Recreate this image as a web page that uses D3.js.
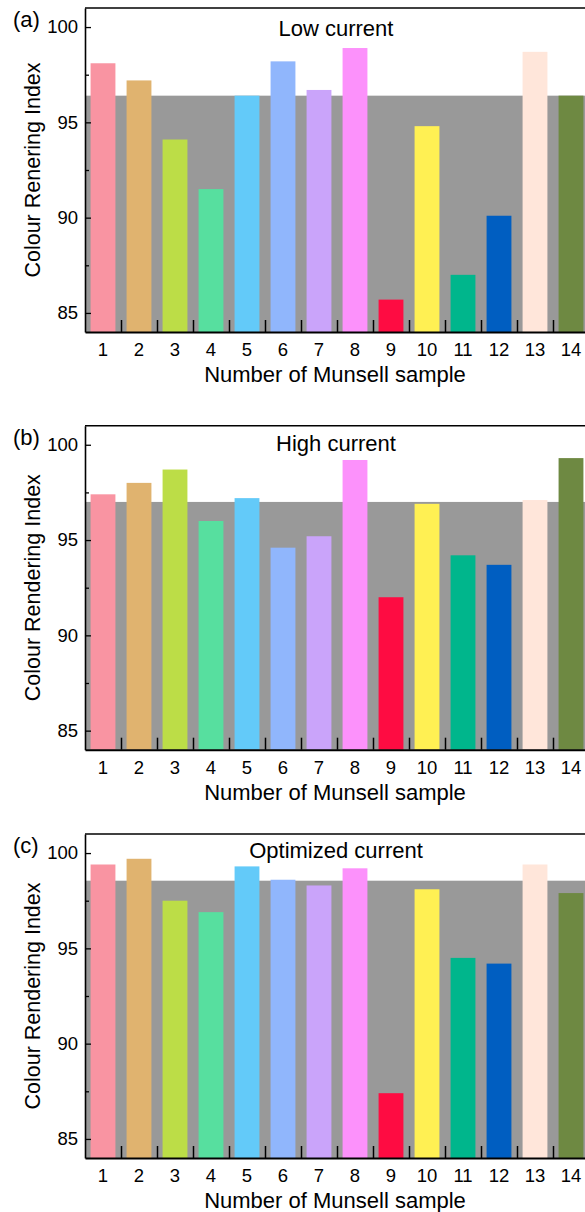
<!DOCTYPE html>
<html lang="en">
<head>
<meta charset="utf-8">
<title>Colour Rendering Index</title>
<script type="text/javascript" src="https://d3js.org/d3.v7.min.js"></script>
<style>
  body { margin: 0; background: white; }
  text { font-family: "Liberation Sans", Arial, Helvetica, sans-serif; fill: black; }
  .axis path, .axis line { stroke: black; }
</style>
</head>
<body>
<div id="chart"></div>
<script type="text/javascript">
const samples = [1, 2, 3, 4, 5, 6, 7, 8, 9, 10, 11, 12, 13, 14];
const lowCurrent = [98.1, 97.2, 94.1, 91.5, 96.4, 98.2, 96.7, 98.9, 85.7, 94.8, 87.0, 90.1, 98.7, 96.4];
const highCurrent = [97.4, 98.0, 98.7, 96.0, 97.2, 94.6, 95.2, 99.2, 92.0, 96.9, 94.2, 93.7, 97.1, 99.3];
const optimizedCurrent = [99.4, 99.7, 97.5, 96.9, 99.3, 98.6, 98.3, 99.2, 87.4, 98.1, 94.5, 94.2, 99.4, 97.9];
const raValues = [96.4, 97.0, 98.55];
const barColors = ["#f994a2", "#e0b36f", "#bcdd47", "#57df9f", "#63caf9", "#90b6fc", "#caa4fa",
                   "#fc91fb", "#fe0c42", "#fff053", "#00b68c", "#005ec1", "#ffe6da", "#6e8942"];
const yTicks = [85, 90, 95, 100];
const yMinorTicks = [87.5, 92.5, 97.5];
const panelLabels = ["(a)", "(b)", "(c)"];
const panelTitles = ["Low current", "High current", "Optimized current"];
const yTitles = ["Colour Renering Index", "Colour Rendering Index", "Colour Rendering Index"];
const xTitle = "Number of Munsell sample";

const width = 585;
const height = 1212;
const panelTops = [8, 425.7, 834];
const titleOffsets = [28, 25, 23.5];
const plotHeight = 324;
const plotLeft = 85;
const plotRight = 589;

const svg = d3.select("#chart")
  .append("svg")
  .attr("width", width)
  .attr("height", height);

const series = [lowCurrent, highCurrent, optimizedCurrent];

const x = d3.scaleBand()
  .domain(samples)
  .range([plotLeft, plotRight])
  .paddingInner(0.31)
  .paddingOuter(0.155);

const xLin = d3.scaleLinear()
  .domain([0.5, 14.5])
  .range([plotLeft, plotRight]);

series.forEach(function(values, i) {
  const top = panelTops[i];
  const bottom = top + plotHeight;

  const y = d3.scaleLinear()
    .domain([84, 101])
    .range([bottom, top]);

  const g = svg.append("g");

  // grey band = general index Ra
  g.append("rect")
    .attr("x", plotLeft)
    .attr("y", y(raValues[i]))
    .attr("width", plotRight - plotLeft)
    .attr("height", y(84) - y(raValues[i]))
    .attr("fill", "#999999");

  g.append("g")
    .selectAll("rect")
    .data(values)
    .enter()
    .append("rect")
    .attr("x", (d, j) => x(samples[j]))
    .attr("y", d => y(d))
    .attr("width", x.bandwidth())
    .attr("height", d => y(84) - y(d))
    .attr("fill", (d, j) => barColors[j]);

  // top frame
  g.append("line")
    .attr("x1", plotLeft)
    .attr("x2", plotRight)
    .attr("y1", y(101))
    .attr("y2", y(101))
    .attr("stroke", "black")
    .attr("stroke-width", 1.5);

  // y axis
  g.append("g")
    .attr("class", "axis")
    .attr("transform", "translate(" + plotLeft + ",0)")
    .call(d3.axisLeft(y).tickValues(yTicks).tickSizeInner(-6).tickSizeOuter(0).tickPadding(7))
    .call(a => a.selectAll("text").style("font-size", "18.5px"))
    .call(a => a.selectAll("line").attr("stroke-width", 1.3))
    .call(a => a.select(".domain").attr("stroke-width", 1.6));

  g.append("g")
    .attr("class", "axis")
    .attr("transform", "translate(" + plotLeft + ",0)")
    .call(d3.axisLeft(y).tickValues(yMinorTicks).tickSizeInner(-4).tickSizeOuter(0).tickFormat(""))
    .call(a => a.selectAll("line").attr("stroke-width", 1.3))
    .call(a => a.select(".domain").remove());

  // x labels
  g.append("g")
    .attr("class", "axis")
    .attr("transform", "translate(0," + bottom + ")")
    .call(d3.axisBottom(x).tickSize(0).tickPadding(11))
    .call(a => a.selectAll("text").style("font-size", "18.5px"))
    .call(a => a.select(".domain").remove());

  // boundary ticks between samples
  g.append("g")
    .attr("class", "axis")
    .attr("transform", "translate(0," + bottom + ")")
    .call(d3.axisBottom(xLin).tickValues(d3.range(1.5, 14.5, 1)).tickSizeInner(-12).tickSizeOuter(0).tickFormat(""))
    .call(a => a.selectAll("line").attr("stroke-width", 1.5))
    .call(a => a.select(".domain").attr("stroke-width", 2));

  g.append("text")
    .attr("x", 13)
    .attr("y", top + 19)
    .style("font-size", "22px")
    .text(panelLabels[i]);

  g.append("text")
    .attr("x", (plotLeft + plotRight) / 2 - 1)
    .attr("y", top + titleOffsets[i])
    .attr("text-anchor", "middle")
    .style("font-size", "22px")
    .text(panelTitles[i]);

  g.append("text")
    .attr("transform", "translate(40," + (top + plotHeight / 2) + ") rotate(-90)")
    .attr("text-anchor", "middle")
    .style("font-size", "21.5px")
    .text(yTitles[i]);

  g.append("text")
    .attr("x", (plotLeft + plotRight) / 2 - 2)
    .attr("y", bottom + 50)
    .attr("text-anchor", "middle")
    .style("font-size", "22px")
    .text(xTitle);
});
</script>
</body>
</html>
